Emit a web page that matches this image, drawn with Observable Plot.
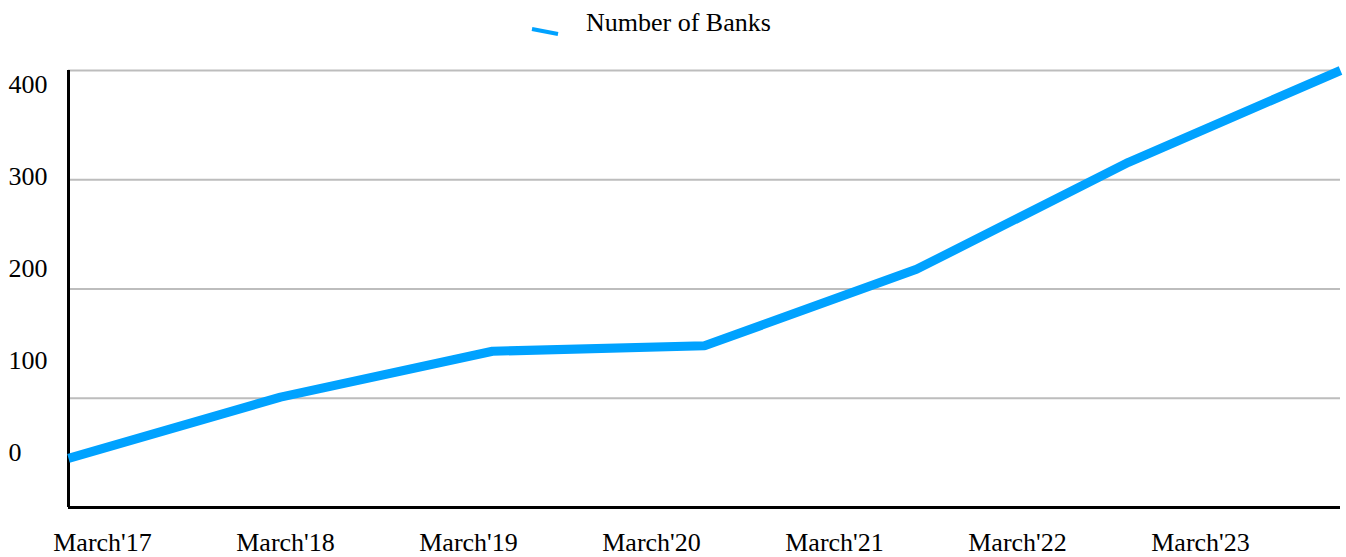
<!DOCTYPE html>
<html>
<head>
<meta charset="utf-8">
<script src="https://cdn.jsdelivr.net/npm/d3@7"></script>
<script src="https://cdn.jsdelivr.net/npm/@observablehq/plot@0.6"></script>
<style>
  html, body { margin: 0; padding: 0; background: #fff; }
  #wrap { position: relative; width: 1346px; height: 557px; font-family: "Liberation Serif", "Times New Roman", serif; }
  #legend { position: absolute; left: 0; top: 0; width: 1346px; height: 45px; }
  #legend .lbl { position: absolute; left: 586px; top: 8px; font-size: 26px; color: #000; white-space: nowrap; line-height: 1.15; }
  #legend svg { position: absolute; left: 528px; top: 24px; }
  #main { position: absolute; left: 0; top: 45px; }
  #ylabels { position: absolute; left: 0; top: 0; }
  #xlabels { position: absolute; left: 0; top: 528px; }
</style>
</head>
<body>
<div id="wrap">
  <div id="legend">
    <svg width="34" height="16"><line x1="4" y1="5" x2="30" y2="10" stroke="#00A2FF" stroke-width="4"/></svg>
    <span class="lbl">Number of Banks</span>
  </div>
  <div id="main"></div>
  <div id="ylabels"></div>
  <div id="xlabels"></div>
</div>
<script>
const categories = ["March'17", "March'18", "March'19", "March'20", "March'21", "March'22", "March'23"];
const banks = [45, 101, 143, 148, 218, 316, 400];
const gridTicks = [100, 200, 300, 400];
const yTickLabels = [0, 100, 200, 300, 400];
const seriesName = "Number of Banks";

const data = categories.map((c, i) => ({period: c, value: banks[i], series: seriesName}));
const FONT = '"Liberation Serif", "Times New Roman", serif';

const main = Plot.plot({
  width: 1346,
  height: 512,
  marginTop: 25,
  marginBottom: 50,
  marginLeft: 68,
  marginRight: 6,
  style: {fontFamily: FONT, background: "transparent"},
  x: {type: "point", domain: categories, padding: 0, axis: null},
  y: {domain: [0, 400], axis: null},
  marks: [
    Plot.ruleY(gridTicks, {stroke: "#bdbdbd", strokeWidth: 2}),
    Plot.ruleY([0], {stroke: "#000", strokeWidth: 3}),
    Plot.ruleX([categories[0]], {y1: 0, y2: 400, stroke: "#000", strokeWidth: 3}),
    Plot.line(data, {x: "period", y: "value", stroke: "#00A2FF", strokeWidth: 9, strokeLinejoin: "miter", strokeLinecap: "butt"})
  ]
});
document.getElementById("main").appendChild(main);

// y tick labels (drawn on their own scale, as in the reference)
const ylab = Plot.plot({
  width: 64,
  height: 557,
  marginTop: 84,
  marginBottom: 105,
  marginLeft: 8,
  marginRight: 0,
  style: {fontFamily: FONT, background: "transparent", overflow: "visible"},
  x: {axis: null},
  y: {domain: [0, 400], axis: null},
  marks: [
    Plot.text(yTickLabels, {y: d => d, text: d => String(d), frameAnchor: "left", textAnchor: "start", lineAnchor: "middle", fontSize: 26, fill: "#000"})
  ]
});
document.getElementById("ylabels").appendChild(ylab);

// x tick labels
const xlab = Plot.plot({
  width: 1346,
  height: 29,
  marginTop: 0,
  marginBottom: 0,
  marginLeft: 101,
  marginRight: 145,
  style: {fontFamily: FONT, background: "transparent", overflow: "visible"},
  x: {type: "point", domain: categories, padding: 0, axis: null},
  y: {axis: null},
  marks: [
    Plot.text(categories, {x: d => d, text: d => d, frameAnchor: "middle", textAnchor: "middle", lineAnchor: "middle", fontSize: 26, fill: "#000"})
  ]
});
document.getElementById("xlabels").appendChild(xlab);
</script>
</body>
</html>
